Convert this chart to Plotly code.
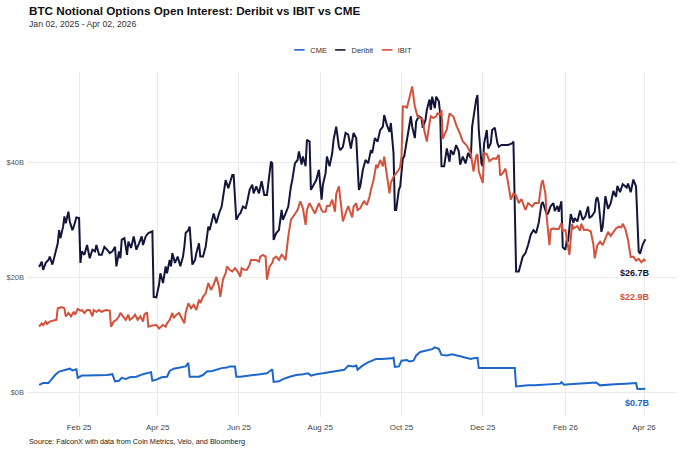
import pandas as pd
import plotly.graph_objects as go

# values; days counted from Jan 02, 2025, values in $B
start = pd.Timestamp("2025-01-02")

deribit_day = [0, 2, 3, 5, 7, 8, 10, 12, 14, 15, 16, 18, 19, 20, 22, 23, 25, 26, 28, 30,
               31, 32, 34, 36, 38, 40, 42, 43, 45, 47, 49, 51, 53, 55, 57, 58, 60, 61, 62, 64,
               66, 67, 69, 71, 73, 75, 77, 78, 80, 82, 85, 86, 88, 90, 91, 93, 95, 96, 98, 99,
               100, 102, 104, 106, 108, 109, 110, 112, 113, 115, 117, 118, 120, 121, 123, 125, 127, 128, 130, 131,
               133, 135, 137, 139, 140, 142, 143, 145, 146, 148, 150, 151, 153, 155, 156, 158, 160, 161, 163, 165,
               167, 169, 171, 173, 174, 175, 176, 178, 180, 182, 183, 185, 187, 189, 190, 192, 194, 195, 197, 198,
               200, 201, 203, 204, 206, 208, 210, 212, 213, 215, 216, 218, 220, 221, 223, 225, 226, 228, 230, 232,
               234, 236, 238, 240, 241, 243, 245, 247, 249, 250, 252, 254, 256, 258, 259, 261, 263, 264, 266, 267,
               268, 270, 271, 273, 274, 276, 277, 279, 280, 282, 283, 285, 287, 288, 290, 291, 293, 294, 295, 297,
               298, 300, 301, 302, 304, 306, 308, 309, 311, 313, 315, 316, 318, 320, 322, 324, 325, 327, 328, 329,
               330, 332, 333, 334, 336, 337, 339, 340, 342, 344, 345, 347, 350, 352, 355, 356, 358, 360, 363, 365,
               367, 369, 371, 373, 375, 377, 378, 381, 382, 384, 386, 387, 389, 390, 392, 393, 395, 396, 397, 399,
               401, 402, 404, 406, 408, 410, 412, 413, 415, 417, 418, 419, 420, 422, 423, 425, 427, 429, 431, 433,
               434, 436, 438, 440, 441, 442, 444, 446, 448, 450, 451, 453, 455]
deribit_oi = [21.9, 22.8, 21.4, 22.6, 23.1, 23.7, 22.3, 24.0, 26.0, 28.3, 26.9, 28.9, 30.7, 29.5, 31.5, 29.8, 28.3, 28.9, 30.5, 30.4,
              22.6, 24.6, 24.0, 25.7, 23.4, 24.9, 24.6, 25.7, 24.0, 24.0, 25.4, 24.9, 24.3, 24.6, 25.4, 22.0, 24.6, 23.4, 26.6, 26.9,
              24.0, 26.3, 25.2, 27.2, 24.9, 26.0, 27.2, 25.7, 27.2, 27.8, 28.1, 16.7, 16.6, 18.8, 20.8, 19.1, 22.0, 20.8, 23.1, 22.0,
              24.3, 22.6, 23.7, 22.0, 23.7, 25.4, 27.8, 28.3, 28.9, 22.3, 23.1, 24.3, 26.0, 23.7, 23.7, 25.4, 28.9, 28.3, 30.4, 31.2,
              29.5, 31.2, 32.4, 35.3, 37.0, 35.6, 36.5, 37.9, 37.9, 30.1, 31.0, 31.2, 32.4, 32.1, 33.0, 35.3, 36.2, 34.7, 35.9, 34.7,
              36.8, 34.4, 34.4, 38.8, 40.2, 39.9, 26.6, 27.8, 28.3, 31.8, 30.1, 31.2, 32.4, 35.9, 37.0, 39.9, 40.5, 42.0, 39.7, 41.1,
              39.4, 44.0, 43.7, 35.3, 36.2, 37.0, 38.8, 33.6, 36.2, 38.2, 41.1, 39.4, 41.7, 44.0, 46.3, 42.8, 42.2, 42.8, 45.2, 44.9,
              42.5, 45.2, 44.3, 35.3, 35.9, 38.8, 40.5, 39.9, 42.2, 41.7, 44.3, 43.7, 45.7, 46.3, 48.3, 46.6, 45.4, 46.9, 41.7, 31.8,
              31.8, 35.3, 35.9, 40.8, 41.1, 43.7, 45.7, 48.1, 46.3, 44.3, 47.2, 48.1, 47.8, 46.1, 47.5, 49.2, 51.0, 49.2, 51.5, 49.5,
              51.5, 50.7, 48.6, 39.4, 39.4, 42.5, 40.2, 42.2, 41.4, 43.1, 42.0, 39.7, 41.1, 39.9, 41.7, 40.8, 46.3, 49.8, 51.0, 51.8,
              45.7, 39.9, 39.4, 43.4, 45.7, 42.5, 43.4, 45.7, 46.1, 43.4, 42.8, 43.1, 43.1, 43.1, 43.4, 43.7, 21.1, 21.1, 23.7, 24.3,
              25.7, 27.5, 28.3, 27.8, 29.6, 32.8, 33.2, 31.0, 31.2, 32.5, 33.0, 31.6, 32.5, 31.5, 33.3, 25.3, 24.9, 26.6, 26.3, 31.1,
              29.6, 30.4, 29.8, 31.7, 30.1, 30.7, 32.4, 30.4, 30.8, 31.5, 33.6, 34.0, 33.0, 28.0, 28.9, 34.2, 32.0, 33.0, 35.1, 34.1,
              36.0, 34.9, 36.3, 36.0, 35.7, 36.4, 34.9, 37.1, 35.9, 24.6, 24.2, 25.8, 26.7]

ibit_day = [0, 2, 3, 5, 6, 8, 11, 13, 14, 17, 19, 20, 22, 24, 26, 27, 29, 31, 32, 34,
            36, 38, 40, 41, 43, 45, 47, 50, 53, 54, 56, 58, 60, 61, 63, 65, 67, 68, 70, 72,
            74, 76, 78, 79, 81, 82, 85, 88, 90, 93, 95, 96, 98, 100, 101, 103, 105, 107, 109, 110,
            112, 114, 116, 118, 120, 121, 123, 125, 127, 129, 131, 133, 135, 136, 138, 140, 141, 143, 145, 147,
            149, 151, 152, 154, 156, 158, 159, 161, 163, 165, 166, 168, 170, 171, 173, 175, 176, 178, 180, 182,
            183, 185, 187, 189, 190, 192, 194, 196, 198, 200, 201, 203, 205, 207, 209, 210, 212, 213, 215, 216,
            218, 220, 222, 223, 225, 226, 228, 230, 232, 233, 235, 236, 238, 239, 241, 243, 244, 246, 248, 249,
            251, 253, 254, 256, 258, 259, 261, 263, 264, 266, 268, 270, 271, 272, 273, 275, 276, 278, 280, 281,
            282, 284, 286, 288, 289, 291, 293, 294, 296, 298, 299, 301, 302, 303, 306, 308, 311, 313, 316, 318,
            321, 324, 326, 328, 329, 330, 333, 334, 336, 338, 341, 343, 345, 346, 348, 350, 352, 354, 356, 358,
            360, 362, 365, 367, 370, 372, 375, 377, 378, 380, 381, 383, 384, 386, 388, 390, 392, 393, 395, 396,
            398, 400, 401, 404, 406, 407, 409, 411, 414, 416, 417, 419, 421, 423, 425, 427, 429, 431, 433, 435,
            437, 438, 440, 442, 444, 446, 448, 450, 452, 454, 455]
ibit_oi = [11.5, 12.1, 11.8, 12.4, 12.0, 12.4, 12.6, 12.7, 14.7, 14.9, 14.7, 13.3, 13.9, 13.3, 14.1, 13.6, 14.6, 14.3, 14.4, 13.9,
           14.4, 14.4, 13.3, 14.4, 14.1, 14.4, 14.1, 14.4, 14.3, 11.5, 12.4, 12.7, 13.3, 13.9, 13.3, 12.7, 13.6, 12.7, 13.0, 13.6,
           12.7, 13.3, 12.4, 13.6, 14.0, 11.5, 11.7, 11.8, 11.2, 11.8, 11.5, 12.1, 12.7, 13.9, 13.0, 13.6, 13.9, 13.0, 12.1, 13.9,
           15.6, 14.7, 15.3, 14.4, 16.2, 15.6, 16.7, 17.3, 19.1, 17.9, 18.8, 20.2, 18.5, 16.7, 19.7, 20.8, 22.0, 21.4, 21.1, 21.7,
           21.1, 20.2, 21.7, 21.4, 21.4, 22.3, 23.1, 23.1, 23.1, 22.8, 23.7, 24.0, 23.7, 19.7, 22.0, 22.6, 23.4, 23.7, 23.1, 24.0,
           23.8, 23.1, 27.2, 30.1, 30.4, 31.0, 31.8, 33.3, 32.1, 29.2, 31.8, 33.0, 32.1, 31.2, 32.4, 33.0, 31.8, 31.5, 31.5, 32.5,
           32.5, 33.6, 31.5, 34.6, 35.9, 34.1, 29.8, 31.2, 32.5, 31.8, 30.5, 32.4, 33.0, 31.8, 32.1, 33.0, 33.3, 32.7, 34.1, 35.3,
           37.0, 39.7, 39.1, 40.5, 39.4, 41.1, 38.2, 34.7, 36.5, 37.6, 38.2, 38.8, 39.4, 41.1, 49.8, 49.8, 49.5, 51.2, 53.3, 51.5,
           49.8, 48.1, 47.8, 47.5, 45.7, 43.7, 46.9, 48.1, 47.8, 48.1, 48.6, 48.4, 49.2, 44.2, 45.8, 48.6, 48.0, 46.6, 45.0, 43.7,
           43.0, 41.6, 38.5, 41.2, 41.5, 38.5, 36.5, 41.7, 41.5, 40.3, 40.8, 40.7, 41.4, 37.8, 38.2, 39.0, 36.5, 33.6, 34.7, 34.3,
           33.0, 33.7, 31.8, 33.0, 32.4, 33.0, 33.0, 36.4, 37.0, 34.6, 30.5, 25.7, 28.4, 28.6, 28.5, 28.5, 29.5, 28.2, 28.3, 26.6,
           24.0, 29.4, 28.6, 29.0, 28.2, 29.4, 28.3, 28.4, 28.1, 25.8, 23.4, 25.7, 26.3, 25.7, 27.0, 28.0, 27.3, 28.0, 28.6, 28.9,
           28.8, 29.4, 28.5, 26.6, 23.6, 23.7, 23.0, 23.3, 22.7, 23.2, 22.9]

cme_day = [0, 3, 7, 10, 12, 15, 17, 21, 23, 25, 27, 28, 29, 32, 36, 41, 46, 51, 55, 57,
           60, 62, 65, 68, 73, 78, 84, 85, 88, 92, 96, 98, 101, 105, 110, 112, 113, 116, 120, 123,
           126, 130, 133, 137, 141, 143, 147, 148, 151, 156, 161, 166, 171, 175, 176, 180, 183, 188, 193, 198,
           202, 204, 208, 213, 218, 223, 226, 229, 232, 236, 238, 239, 242, 246, 250, 253, 257, 261, 265, 266,
           267, 270, 272, 276, 278, 281, 283, 286, 288, 292, 295, 297, 300, 302, 306, 310, 314, 317, 321, 324,
           326, 329, 330, 333, 338, 342, 347, 351, 357, 358, 362, 367, 372, 377, 385, 391, 392, 394, 398, 405,
           412, 418, 421, 425, 432, 440, 448, 449, 451, 455]
cme_oi = [1.4, 1.7, 1.7, 2.6, 3.1, 3.7, 3.8, 4.0, 4.2, 3.9, 4.1, 4.1, 2.6, 3.0, 3.0, 3.0, 3.1, 3.1, 3.25, 2.0,
          2.1, 2.6, 2.4, 2.7, 2.8, 3.25, 3.6, 2.1, 2.3, 2.7, 2.8, 3.8, 4.2, 4.4, 4.6, 5.2, 2.8, 2.8, 2.8, 3.1,
          3.7, 3.8, 4.0, 4.3, 4.4, 4.6, 4.6, 2.8, 2.8, 3.0, 3.1, 3.25, 3.4, 4.1, 1.9, 2.0, 2.4, 2.8, 3.1, 3.25,
          3.4, 3.0, 3.25, 3.4, 3.6, 3.85, 4.0, 4.0, 4.7, 4.6, 4.75, 4.0, 4.6, 5.2, 5.6, 5.9, 5.9, 5.9, 6.0, 6.1,
          4.5, 4.6, 5.6, 5.7, 5.45, 5.6, 6.5, 7.1, 7.2, 7.5, 7.6, 7.9, 7.65, 6.6, 6.5, 6.7, 6.5, 6.3, 6.1, 5.9,
          6.0, 6.1, 4.3, 4.3, 4.3, 4.2, 4.2, 4.3, 4.3, 1.1, 1.2, 1.3, 1.3, 1.4, 1.5, 1.6, 1.85, 1.4, 1.5, 1.6,
          1.7, 1.8, 1.3, 1.4, 1.5, 1.6, 1.7, 0.7, 0.65, 0.7]

series_names = ["CME", "Deribit", "IBIT"]
series_colors = ["#1c66cc", "#13163a", "#d4523b"]
series_days = [cme_day, deribit_day, ibit_day]
series_values = [cme_oi, deribit_oi, ibit_oi]
label_y = [-1.8, 20.8, 16.7]  # where the end labels sit (in $B)

fig = go.Figure()
for name, color, days, vals in zip(series_names, series_colors, series_days, series_values):
    dates = start + pd.to_timedelta(days, unit="D")
    fig.add_trace(go.Scatter(x=dates, y=vals, mode="lines", name=name,
                             line=dict(color=color, width=2), showlegend=False))

font_family = "Liberation Sans, Arial, sans-serif"

# end-of-line value labels
for name, color, days, vals, ly in zip(series_names, series_colors, series_days, series_values, label_y):
    last_date = start + pd.Timedelta(days=days[-1])
    fig.add_annotation(x=last_date, y=ly, text="<b>$%.1fB</b>" % vals[-1], showarrow=False,
                       xanchor="right", yanchor="middle", xshift=7,
                       font=dict(size=9, color=color, family=font_family))

# title, subtitle, legend row and source line
fig.add_annotation(x=-0.0015, y=1.177, xref="paper", yref="paper", xanchor="left", yanchor="middle",
                   text="<b>BTC Notional Options Open Interest: Deribit vs IBIT vs CME</b>",
                   showarrow=False, font=dict(size=11.7, color="#111111", family=font_family))
fig.add_annotation(x=-0.0015, y=1.139, xref="paper", yref="paper", xanchor="left", yanchor="middle",
                   text="Jan 02, 2025 - Apr 02, 2026",
                   showarrow=False, font=dict(size=8.7, color="#333333", family=font_family))

legend_parts = []
for name, color in zip(series_names, series_colors):
    legend_parts.append("<span style='color:%s;font-size:9px'>━━</span>&nbsp;&nbsp;&nbsp;%s" % (color, name))
fig.add_annotation(x=0.5, y=1.064, xref="paper", yref="paper", xanchor="center", yanchor="middle",
                   text="&nbsp;&nbsp;&nbsp;&nbsp;".join(legend_parts), showarrow=False,
                   font=dict(size=7.5, color="#333333", family=font_family))

fig.add_annotation(x=-0.0015, y=-0.072, xref="paper", yref="paper", xanchor="left", yanchor="middle",
                   text="Source: FalconX with data from Coin Metrics, Velo, and Bloomberg",
                   showarrow=False, font=dict(size=7.3, color="#222222", family=font_family))

fig.update_layout(
    width=680, height=451,
    margin=dict(l=28, r=4, t=72, b=34, autoexpand=False),
    paper_bgcolor="white", plot_bgcolor="white",
    font=dict(family=font_family, color="#333333"),
    showlegend=False,
)
fig.update_xaxes(range=["2024-12-24 16:00", "2026-04-25"], tick0="2025-02-01", dtick="M2",
                 tickformat="%b %y", showgrid=True, gridcolor="#ebebeb", gridwidth=1,
                 zeroline=False, showline=False, ticks="", ticklabelstandoff=4,
                 tickfont=dict(size=8, color="#444444"))
fig.update_yaxes(range=[-4.2, 55.8], tickvals=[0, 20, 40], ticktext=["$0B", "$20B", "$40B"],
                 showgrid=True, gridcolor="#ebebeb", gridwidth=1, zeroline=False, showline=False,
                 ticks="", ticklabelstandoff=3, tickfont=dict(size=7.5, color="#555555"))

# drop the default 8px page margin so the figure fills the window exactly
fig.write_html("out.html", config={"displayModeBar": False},
               post_script="document.body.style.margin = '0px';")
